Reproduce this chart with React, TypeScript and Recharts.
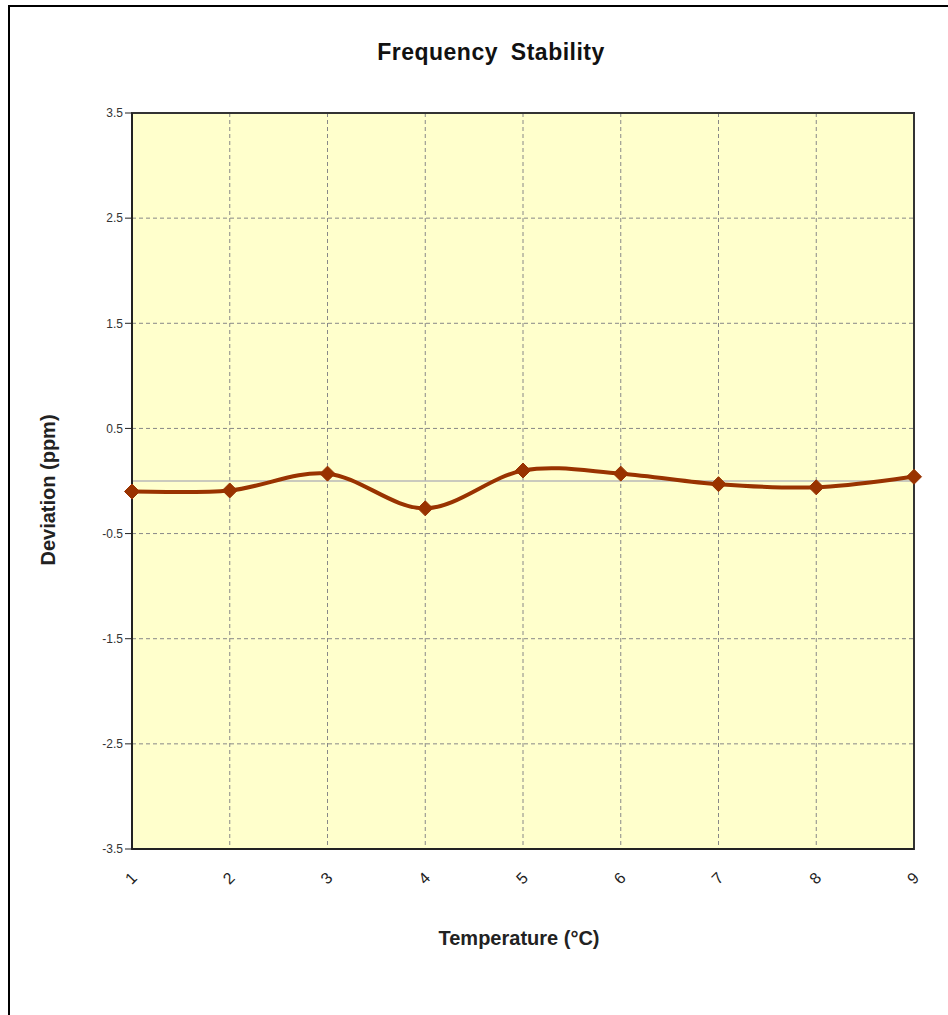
import { LineChart, Line, XAxis, YAxis, CartesianGrid, ReferenceLine, ReferenceArea } from "recharts";

const temperatures = [1, 2, 3, 4, 5, 6, 7, 8, 9];
const deviation = [-0.1, -0.09, 0.07, -0.26, 0.1, 0.07, -0.03, -0.06, 0.04];
const yTicks = [-3.5, -2.5, -1.5, -0.5, 0.5, 1.5, 2.5, 3.5];

const data = temperatures.map((t, i) => ({ temp: t, dev: deviation[i] }));

const FONT = "'Liberation Sans', Arial, sans-serif";

// spreadsheet-style smoothing: bezier with control points at 1/6 of the neighbour chord
function smoothCurve(context: any) {
  let pts: number[][] = [];
  return {
    areaStart() {},
    areaEnd() {},
    lineStart() {
      pts = [];
    },
    point(x: number, y: number) {
      pts.push([x, y]);
    },
    lineEnd() {
      if (!pts.length) return;
      context.moveTo(pts[0][0], pts[0][1]);
      for (let i = 0; i < pts.length - 1; i++) {
        const p0 = pts[i - 1] || pts[i];
        const p1 = pts[i];
        const p2 = pts[i + 1];
        const p3 = pts[i + 2] || p2;
        context.bezierCurveTo(
          p1[0] + (p2[0] - p0[0]) / 6,
          p1[1] + (p2[1] - p0[1]) / 6,
          p2[0] - (p3[0] - p1[0]) / 6,
          p2[1] - (p3[1] - p1[1]) / 6,
          p2[0],
          p2[1]
        );
      }
    },
  };
}

function Diamond(props: any) {
  const { cx, cy } = props;
  if (cx == null || cy == null) return null;
  const r = 7.5;
  return (
    <polygon
      points={`${cx},${cy - r} ${cx + r},${cy} ${cx},${cy + r} ${cx - r},${cy}`}
      fill="#993300"
      stroke="#993300"
    />
  );
}

function XTick(props: any) {
  const { x, y, payload } = props;
  return (
    <text
      x={x}
      y={y + 22}
      transform={`rotate(-45 ${x} ${y + 22})`}
      textAnchor="middle"
      dominantBaseline="middle"
      fontSize={16}
      fill="#222"
      fontFamily={FONT}
    >
      {payload.value}
    </text>
  );
}

export default function App() {
  return (
    <div style={{ position: "absolute", left: 8, top: 5, width: 940, height: 1010, fontFamily: FONT }}>
      <style>{`body { margin: 0; }`}</style>
      <div
        style={{
          position: "absolute",
          left: 0,
          top: 0,
          width: 940,
          height: 1010,
          borderTop: "2px solid #000",
          borderLeft: "2px solid #000",
          boxSizing: "border-box",
          pointerEvents: "none",
          zIndex: 2,
        }}
      />
      <div
        style={{
          position: "absolute",
          left: 0,
          width: 966,
          top: 34,
          textAlign: "center",
          fontSize: 23,
          fontWeight: "bold",
          letterSpacing: 0.5,
          wordSpacing: 6,
          color: "#111",
        }}
      >
        Frequency Stability
      </div>
      <LineChart
        width={940}
        height={1010}
        data={data}
        margin={{ top: 108, right: 34, left: 64, bottom: 106 }}
      >
        <CartesianGrid stroke="#888" strokeDasharray="4 3" fill="#FFFFCC" />
        <XAxis
          dataKey="temp"
          type="number"
          domain={[1, 9]}
          ticks={temperatures}
          tickLine={false}
          axisLine={{ stroke: "#222", strokeWidth: 2 }}
          tick={<XTick />}
          height={60}
          interval={0}
        />
        <YAxis
          type="number"
          domain={[-3.5, 3.5]}
          ticks={yTicks}
          width={60}
          tickSize={7}
          tickLine={{ stroke: "#222" }}
          axisLine={{ stroke: "#222", strokeWidth: 2 }}
          tick={{ fontSize: 12, fill: "#333", fontFamily: FONT }}
          interval={0}
        />
        <ReferenceArea x1={1} x2={9} y1={-3.5} y2={3.5} fill="none" stroke="#333" strokeWidth={2} ifOverflow="visible" />
        <ReferenceLine y={0} stroke="#b8b8b8" strokeWidth={1.5} />
        <Line
          type={smoothCurve as any}
          dataKey="dev"
          stroke="#993300"
          strokeWidth={4}
          dot={<Diamond />}
          activeDot={false}
          isAnimationActive={false}
        />
      </LineChart>
      <div
        style={{
          position: "absolute",
          left: 40,
          top: 485,
          transform: "translate(-50%, -50%) rotate(-90deg)",
          fontSize: 20,
          fontWeight: "bold",
          color: "#222",
          whiteSpace: "nowrap",
        }}
      >
        Deviation (ppm)
      </div>
      <div
        style={{
          position: "absolute",
          left: 0,
          width: 1022,
          top: 922,
          textAlign: "center",
          fontSize: 20,
          fontWeight: "bold",
          color: "#222",
        }}
      >
        Temperature (°C)
      </div>
    </div>
  );
}
